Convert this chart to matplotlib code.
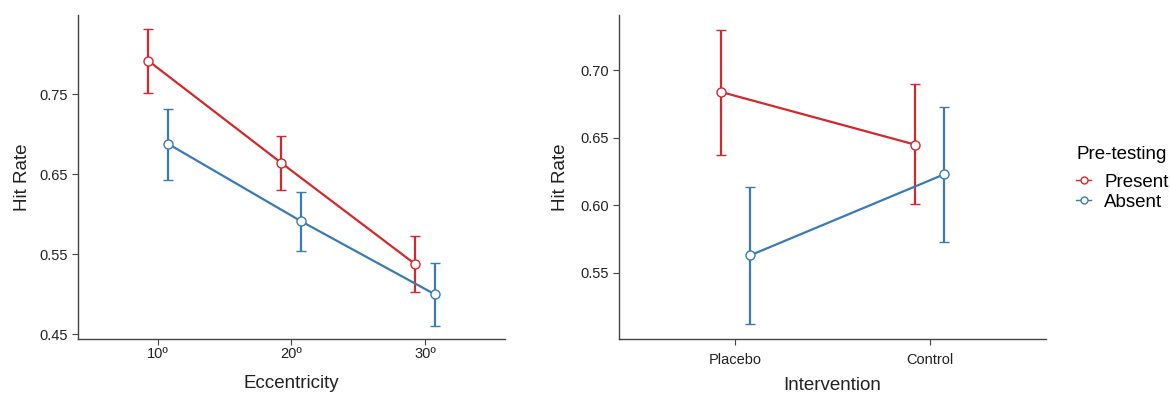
import matplotlib
matplotlib.use("Agg")
import matplotlib.pyplot as plt

plt.rcParams['font.family'] = ['Liberation Sans', 'DejaVu Sans']

# Left panel: eccentricity
ecc = [10, 20, 30]
ecc_labels = ["10º", "20º", "30º"]
ecc_present = [0.792, 0.664, 0.538]
ecc_present_lo = [0.752, 0.630, 0.503]
ecc_present_hi = [0.832, 0.698, 0.573]
ecc_absent = [0.688, 0.591, 0.500]
ecc_absent_lo = [0.643, 0.554, 0.461]
ecc_absent_hi = [0.731, 0.628, 0.539]

# Right panel: intervention
groups = ["Placebo", "Control"]
int_present = [0.684, 0.645]
int_present_lo = [0.637, 0.601]
int_present_hi = [0.730, 0.690]
int_absent = [0.563, 0.623]
int_absent_lo = [0.512, 0.573]
int_absent_hi = [0.614, 0.673]

red = "#d4282c"
blue = "#3a7bb6"
axcol = "#444444"

fig = plt.figure(figsize=(11.71, 3.93), dpi=100)
ax1 = fig.add_axes([0.0666, 0.137, 0.3646, 0.825])
ax2 = fig.add_axes([0.5286, 0.137, 0.3647, 0.825])


def draw(ax, x, y, lo, hi, color, label):
    yerr = [[a - b for a, b in zip(y, lo)], [b - a for a, b in zip(y, hi)]]
    ax.errorbar(x, y, yerr=yerr, color=color, lw=1.6, capsize=3.5, capthick=1.6,
                marker="o", ms=6.5, mfc="white", mec=color, mew=1.0, label=label)


d1 = 0.75
draw(ax1, [v - d1 for v in ecc], ecc_present, ecc_present_lo, ecc_present_hi, red, "Present")
draw(ax1, [v + d1 for v in ecc], ecc_absent, ecc_absent_lo, ecc_absent_hi, blue, "Absent")
ax1.set_xlim(4, 36)
ax1.set_ylim(0.444, 0.849)
ax1.set_xticks(ecc)
ax1.set_xticklabels(ecc_labels)
ax1.set_yticks([0.45, 0.55, 0.65, 0.75])
ax1.set_yticklabels(["0.45", "0.55", "0.65", "0.75"])
ax1.set_xlabel("Eccentricity", fontsize=13.5, color="#222222", labelpad=10)
ax1.set_ylabel("Hit Rate", fontsize=13.5, color="#222222", labelpad=6)

pos = [1, 2]
d2 = 0.075
draw(ax2, [p - d2 for p in pos], int_present, int_present_lo, int_present_hi, red, "Present")
draw(ax2, [p + d2 for p in pos], int_absent, int_absent_lo, int_absent_hi, blue, "Absent")
ax2.set_xlim(0.4, 2.6)
ax2.set_ylim(0.501, 0.741)
ax2.set_xticks(pos)
ax2.set_xticklabels(groups)
ax2.set_yticks([0.55, 0.60, 0.65, 0.70])
ax2.set_yticklabels(["0.55", "0.60", "0.65", "0.70"])
ax2.set_xlabel("Intervention", fontsize=13.5, color="#222222", labelpad=7)
ax2.set_ylabel("Hit Rate", fontsize=13.5, color="#222222", labelpad=8)

for ax in (ax1, ax2):
    for s in ("top", "right"):
        ax.spines[s].set_visible(False)
    for s in ("left", "bottom"):
        ax.spines[s].set_color(axcol)
        ax.spines[s].set_linewidth(1.0)
    ax.tick_params(colors=axcol, labelcolor="#222222", labelsize=10.5, length=4)
ax1.tick_params(axis="x", pad=2)
ax2.tick_params(axis="x", pad=6)

handles, labels = ax2.get_legend_handles_labels()
handles = [h[0] for h in handles]
leg = fig.legend(handles, labels, title="Pre-testing", loc="upper left",
                 bbox_to_anchor=(0.919, 0.629), frameon=False, fontsize=13.5,
                 title_fontsize=13.5, handlelength=0.8, handletextpad=0.7,
                 labelspacing=0.15, borderpad=0, borderaxespad=0)
leg._legend_box.align = "left"
leg._legend_box.sep = 8
for h in leg.legend_handles:
    h.set_markersize(5)
    h.set_linewidth(1.0)

fig.savefig("out.png", dpi=100)
